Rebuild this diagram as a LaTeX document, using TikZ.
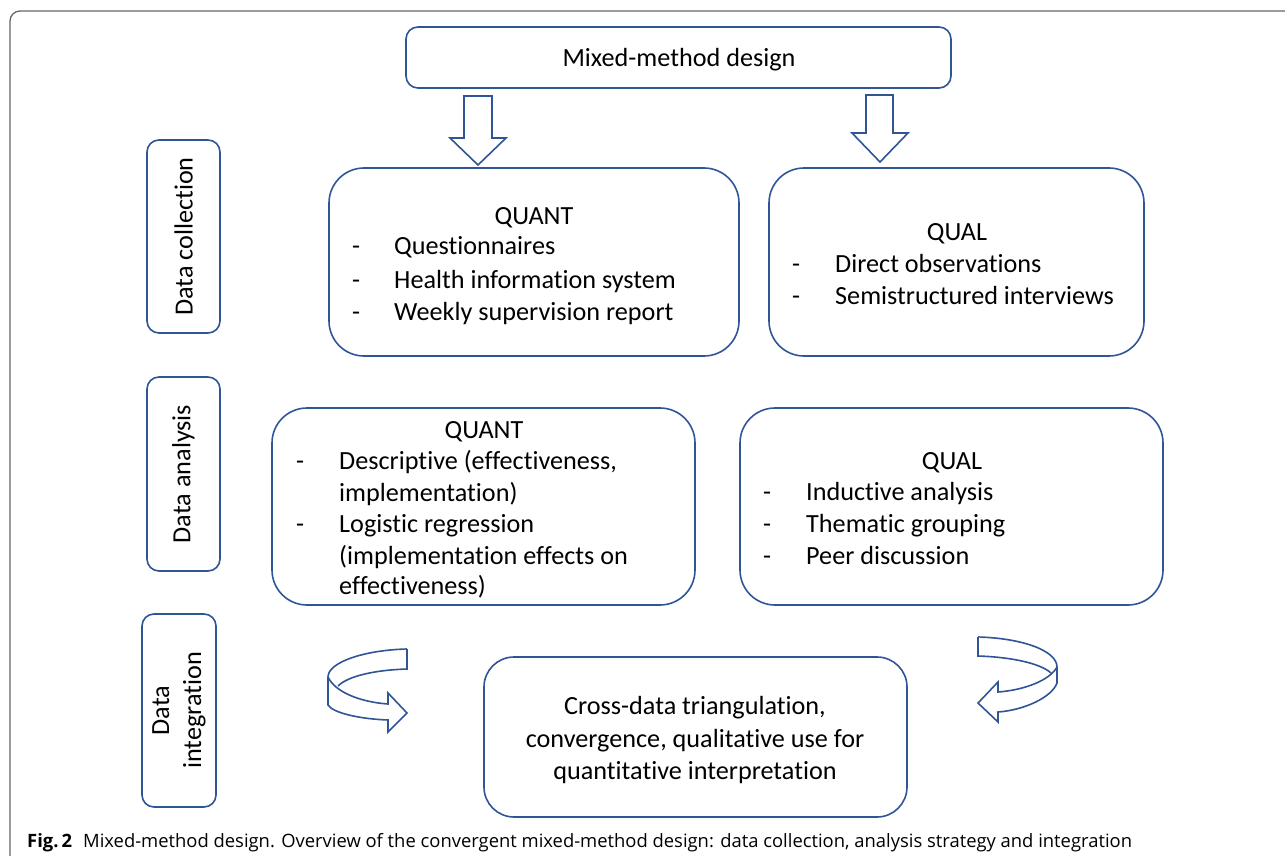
\documentclass[tikz,border=0pt]{standalone}
\usepackage{fontspec}
\setmainfont{Carlito}[Ligatures={NoCommon}]
\newfontfamily\capfont{Open Sans}
\definecolor{boxblue}{HTML}{2F5597}
\definecolor{framegray}{HTML}{666666}
\tikzset{
  box/.style={draw=boxblue, line width=1.6pt, fill=white, inner sep=0pt},
  txt/.style={inner sep=0pt, font=\fontsize{26.2}{32}\selectfont, text=black},
  side/.style={txt, rotate=90, align=center},
  flowarrow/.style={draw=boxblue, line width=1.6pt, fill=white, line join=miter},
}
\begin{document}
\begin{tikzpicture}[x=1pt,y=-1pt]
\useasboundingbox (0,0) rectangle (1285,856);
% outer frame
\draw[framegray, line width=1.3pt, rounded corners=10pt] (10,11) rectangle (1310,870);

% top box
\node[box, rounded corners=12pt, minimum width=545pt, minimum height=61pt] (mm) at (678.5,57.5) {};
\node[txt, anchor=base] (mmt) at (679,67) {Mixed-method design};

% down arrows
\draw[flowarrow] (464,96) -- (492,96) -- (492,138) -- (506,138) -- (478,165) -- (450,138) -- (464,138) -- cycle;
\draw[flowarrow] (866,95) -- (893,95) -- (893,133) -- (908,133) -- (880,162) -- (852,133) -- (866,133) -- cycle;

% side labels
\node[box, rounded corners=12pt, minimum width=73pt, minimum height=193pt] (dc) at (183.5,236.5) {};
\node[side] (dct) at (dc.center) {Data collection};
\node[box, rounded corners=12pt, minimum width=73pt, minimum height=194pt] (da) at (183.5,474) {};
\node[side] (dat) at (da.center) {Data analysis};
\node[box, rounded corners=12pt, minimum width=74pt, minimum height=193pt] (di) at (179,710.5) {};
\node[side, font=\fontsize{26.2}{32}\selectfont] (dit) at (di.center) {Data\\integration};

% QUANT collection
\node[box, rounded corners=35pt, minimum width=410pt, minimum height=188pt] (qc) at (534,262) {};
\node[txt, anchor=base] (qch) at (534,224) {QUANT};
\node[txt, anchor=base west] (qcd1) at (352,254) {-};
\node[txt, anchor=base west] (qc1) at (394,254) {Questionnaires};
\node[txt, anchor=base west] (qcd2) at (352,288) {-};
\node[txt, anchor=base west] (qc2) at (394,288) {Health information system};
\node[txt, anchor=base west] (qcd3) at (352,320) {-};
\node[txt, anchor=base west] (qc3) at (394,320) {Weekly supervision report};

% QUAL collection
\node[box, rounded corners=35pt, minimum width=375pt, minimum height=188pt] (lc) at (956.5,262) {};
\node[txt, anchor=base] (lch) at (957,240) {QUAL};
\node[txt, anchor=base west] (lcd1) at (792,272) {-};
\node[txt, anchor=base west] (lc1) at (835,272) {Direct observations};
\node[txt, anchor=base west] (lcd2) at (792,304) {-};
\node[txt, anchor=base west] (lc2) at (835,304) {Semistructured interviews};

% QUANT analysis
\node[box, rounded corners=35pt, minimum width=423pt, minimum height=197pt] (qa) at (483.5,506.5) {};
\node[txt, anchor=base] (qah) at (484,438) {QUANT};
\node[txt, anchor=base west] (qad1) at (296,469) {-};
\node[txt, anchor=base west] (qa1) at (339,469) {Descriptive (effectiveness,};
\node[txt, anchor=base west] (qa1b) at (339,501) {implementation)};
\node[txt, anchor=base west] (qad2) at (296,532) {-};
\node[txt, anchor=base west] (qa2) at (339,532) {Logistic regression};
\node[txt, anchor=base west] (qa2b) at (339,564) {(implementation effects on};
\node[txt, anchor=base west] (qa2c) at (339,594) {effectiveness)};

% QUAL analysis
\node[box, rounded corners=35pt, minimum width=423pt, minimum height=197pt] (la) at (951.5,506.5) {};
\node[txt, anchor=base] (lah) at (952,469) {QUAL};
\node[txt, anchor=base west] (lad1) at (763,500) {-};
\node[txt, anchor=base west] (la1) at (806,500) {Inductive analysis};
\node[txt, anchor=base west] (lad2) at (763,532) {-};
\node[txt, anchor=base west] (la2) at (806,532) {Thematic grouping};
\node[txt, anchor=base west] (lad3) at (763,564) {-};
\node[txt, anchor=base west] (la3) at (806,564) {Peer discussion};

% integration box
\node[box, rounded corners=30pt, minimum width=423pt, minimum height=160pt] (cx) at (695.5,737) {};
\node[txt, anchor=base] (cx1) at (695,714) {Cross-data triangulation,};
\node[txt, anchor=base] (cx2) at (695,747) {convergence, qualitative use for};
\node[txt, anchor=base] (cx3) at (695,779) {quantitative interpretation};

% left curved arrow
\draw[flowarrow] (407,649) .. controls (365,650) and (328,662) .. (328,677) -- (328,705)
  .. controls (333,713) and (360,719) .. (388,720) -- (388,732) -- (407,713) -- (388,693) -- (388,704)
  .. controls (360,702) and (335,692) .. (328,677);
\draw[flowarrow] (407,649) -- (407,669) .. controls (375,670) and (348,676) .. (338,686);

% right curved arrow
\draw[flowarrow] (978,637) .. controls (1020,638) and (1057,650) .. (1057,667) -- (1057,683)
  .. controls (1052,697) and (1025,710) .. (998,712) -- (998,722) -- (978,703) -- (998,682) -- (998,692)
  .. controls (1025,690) and (1050,680) .. (1057,667);
\draw[flowarrow] (978,637) -- (978,656) .. controls (1010,657) and (1040,663) .. (1051,673);

% caption
\node[inner sep=0pt, anchor=base west, font=\capfont\fontsize{18.4}{22}\selectfont] (cap) at (27,847)
  {\textbf{Fig.\,2}\hspace{0.6em}Mixed-method design. Overview of the convergent mixed-method design: data collection, analysis strategy and integration};
\end{tikzpicture}
\end{document}
